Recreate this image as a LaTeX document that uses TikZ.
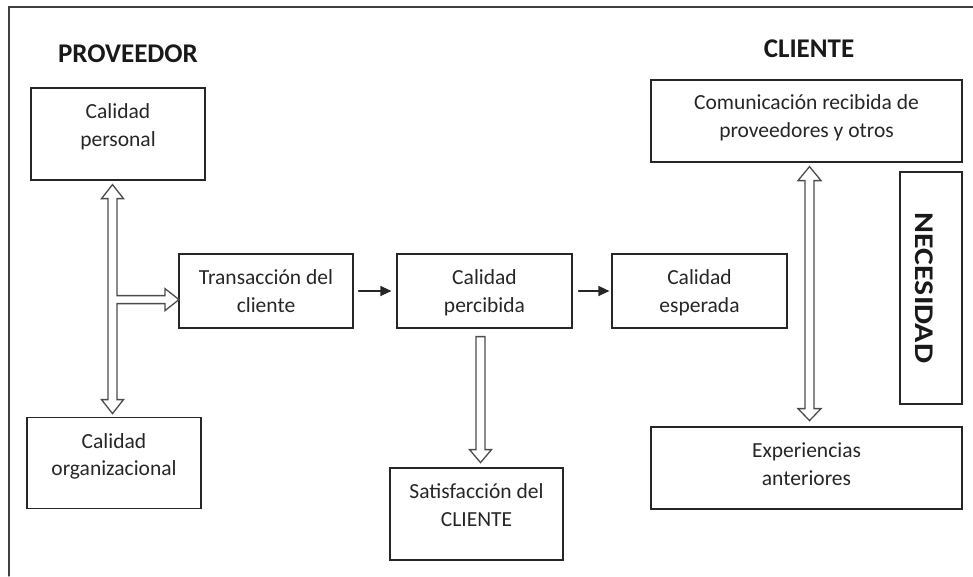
\documentclass[tikz,border=0pt]{standalone}
\usepackage{fontspec}
\setmainfont{Carlito}
\usetikzlibrary{positioning, arrows.meta, calc}

\begin{document}
\begin{tikzpicture}[x=1pt, y=-1pt, line cap=round, >={Triangle[length=11pt,width=10pt]},
    caja/.style 2 args={draw=black!85, line width=1.2pt, minimum width=#1, minimum height=#2, inner sep=0},
    txt/.style={align=center, inner sep=0, font=\fontsize{21.5}{27.5}\selectfont, text=black!85},
    titulo/.style={inner sep=0, font=\fontsize{27}{32}\selectfont\bfseries, text=black!90},
    flecha/.style={->, line width=1.2pt, draw=black!85},
    hueco/.style={draw=black!70, line width=1.3pt, fill=white, line join=miter}]
            \useasboundingbox (0,0) rectangle (973,576);

            % draw the outer frame
            \draw[black!75, line width=1.3pt] (9,576) -- (9,7) -- (973,7);

            % titles
            \node[titulo, anchor=base] (prov) at (128,62) {PROVEEDOR};
            \node[titulo, anchor=base] (cli) at (809,57) {CLIENTE};

            % boxes
            \node[caja={174}{92}] (per) at (118,134) {};
            \node[caja={174}{91}] (org) at (114,463) {};
            \node[caja={174}{74}] (tra) at (266,291) {};
            \node[caja={175}{74}] (perc) at (484.5,291) {};
            \node[caja={175}{74}] (esp) at (699.5,291) {};
            \node[caja={173}{92}] (sat) at (476.5,514) {};
            \node[caja={311}{82}] (com) at (806.5,121) {};
            \node[caja={311}{82}] (exp) at (806.5,468) {};
            \node[caja={62}{232}] (nec) at (931,288) {};

            % text in the boxes
            \node[txt, below=12pt of per.north] (perT) {\strut Calidad\\personal};
            \node[txt, below=12pt of org.north] (orgT) {\strut Calidad\\organizacional};
            \node[txt, below=12pt of tra.north] (traT) {\strut Transacción del\\cliente};
            \node[txt, below=12pt of perc.north] (percT) {\strut Calidad\\percibida};
            \node[txt, below=12pt of esp.north] (espT) {\strut Calidad\\esperada};
            \node[txt, below=12pt of sat.north] (satT) {\strut Satisfacción del\\CLIENTE};
            \node[txt, below=11pt of com.north] (comT) {\strut Comunicación recibida de\\proveedores y otros};
            \node[txt, below=12pt of exp.north] (expT) {\strut Experiencias\\anteriores};
            \node[titulo, rotate=-90] (necT) at (924,288) {\scalebox{1.18}[1]{NECESIDAD}};

            % small arrows
            \draw[flecha, shorten <=5pt, shorten >=5pt] (tra) -- (perc);
            \draw[flecha, shorten <=6pt, shorten >=2pt] (perc) -- (esp);

            % hollow arrows
            \draw[hueco] ($(per.south)+(-5.5,4)$) coordinate (tA) -- ++(11,14) -- ++(-6.5,0) -- ++(0,97)
                -- ++(48,0) -- ++(0,-7) -- ++(14,11) -- ++(-14,11) -- ++(0,-7) -- ++(-48,0)
                -- ++(0,96) -- ++(6.5,0) -- ++(-11,14) -- ++(-11,-14) -- ++(6.5,0)
                -- ++(0,-201) -- ++(-6.5,0) -- cycle;
            \draw[hueco] ($(perc.south)+(-8.5,8)$) coordinate (tB) -- ++(9,0) -- ++(0,113) -- ++(6.5,0)
                -- ++(-11,13) -- ++(-11,-13) -- ++(6.5,0) -- cycle;
            \draw[hueco] ($(com.south)+(3,4)$) coordinate (tC) -- ++(11.5,14) -- ++(-7,0) -- ++(0,228)
                -- ++(7,0) -- ++(-11.5,12) -- ++(-11.5,-12) -- ++(7,0) -- ++(0,-228) -- ++(-7,0) -- cycle;

        \end{tikzpicture}
\end{document}
